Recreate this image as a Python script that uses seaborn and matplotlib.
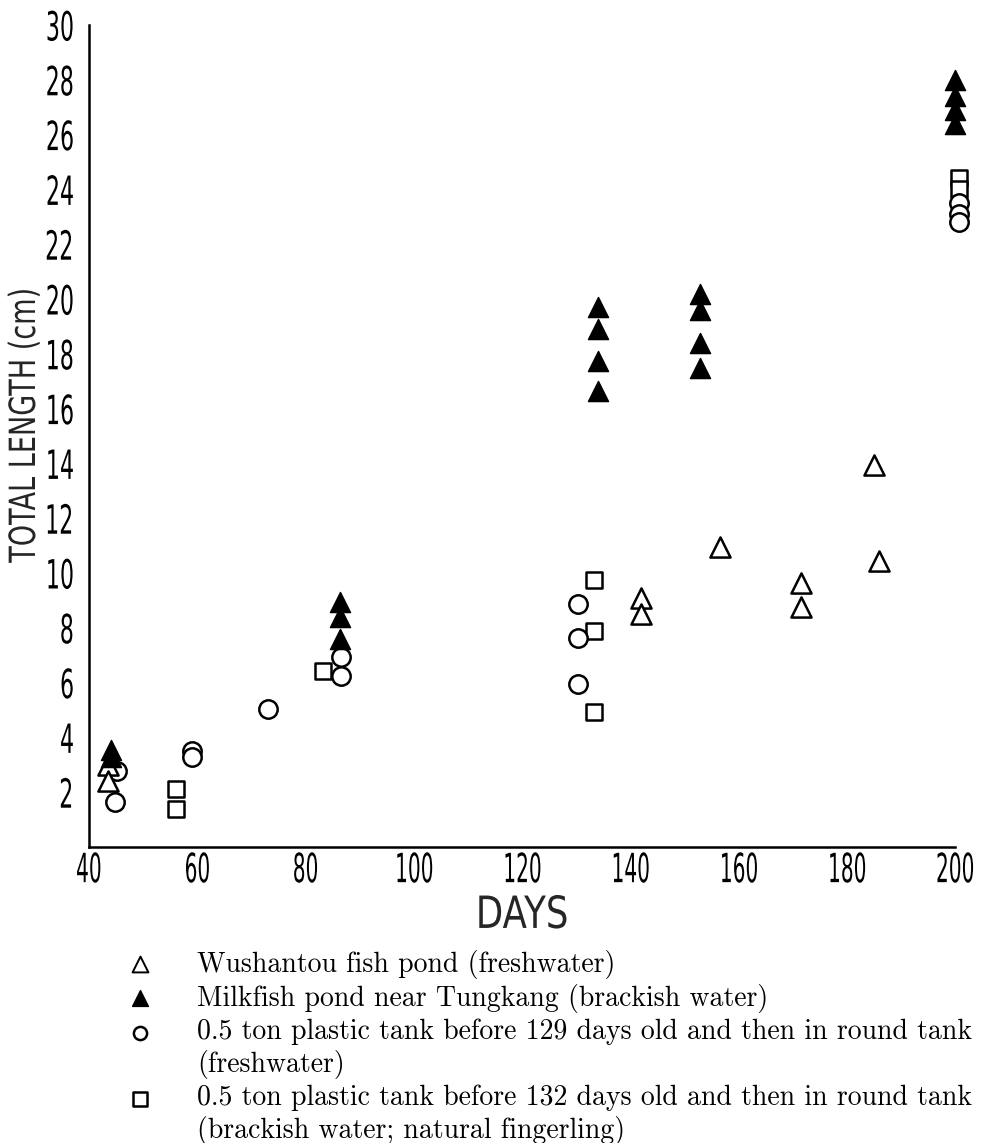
import numpy as np
import pandas as pd
import matplotlib
matplotlib.use("Agg")
import matplotlib.pyplot as plt
import matplotlib.patheffects as pe
from matplotlib.transforms import Affine2D
import seaborn as sns

# ---------------- data ----------------
wush_days = [43.5, 43.5, 142, 142, 156.5, 171.5, 171.5, 185, 186]
wush_len = [3.0, 2.4, 9.1, 8.5, 10.95, 9.65, 8.75, 13.95, 10.45]

tung_days = [44, 44, 86.3, 86.3, 86.3, 134, 134, 134, 134,
             152.8, 152.8, 152.8, 152.8, 200, 200, 200, 200]
tung_len = [3.55, 3.3, 8.95, 8.4, 7.6, 19.7, 18.9, 17.75, 16.65,
            20.2, 19.6, 18.4, 17.5, 28.0, 27.4, 26.9, 26.4]

circ_days = [45.2, 44.8, 59.1, 59.1, 73.1, 86.5, 86.5, 130.4, 130.4, 130.4, 200.8, 200.8, 200.8]
circ_len = [2.77, 1.64, 3.5, 3.3, 5.03, 6.93, 6.23, 8.86, 7.62, 5.94, 23.5, 23.1, 22.8]

sq_days = [56.1, 56.1, 83.3, 133.3, 133.3, 133.3, 200.8, 200.8]
sq_len = [2.1, 1.4, 6.42, 9.73, 7.87, 4.92, 24.4, 24.0]

x_ticks = [40, 60, 80, 100, 120, 140, 160, 180, 200]
y_ticks = [2, 4, 6, 8, 10, 12, 14, 16, 18, 20, 22, 24, 26, 28, 30]

legend_labels = [
    "Wushantou fish pond (freshwater)",
    "Milkfish pond near Tungkang (brackish water)",
    "0.5 ton plastic tank before 129 days old and then in round tank\n(freshwater)",
    "0.5 ton plastic tank before 132 days old and then in round tank\n(brackish water; natural fingerling)",
]


class Squeeze(pe.AbstractPathEffect):
    """Draw text horizontally condensed (along its baseline)."""

    def __init__(self, sx, anchor="center"):
        super().__init__()
        self.sx = sx
        self.anchor = anchor

    def draw_path(self, renderer, gc, tpath, affine, rgbFace=None):
        ext = tpath.get_extents()
        if self.anchor == "center":
            cx = (ext.x0 + ext.x1) / 2
        elif self.anchor == "right":
            cx = ext.x1
        else:
            cx = ext.x0
        t = Affine2D().translate(-cx, 0).scale(self.sx, 1).translate(cx, 0) + affine
        renderer.draw_path(gc, tpath, t, rgbFace)


# ---------------- figure ----------------
sns.set_theme(style="white")
plt.rcParams["font.family"] = ["DejaVu Sans"]

W, H = 991, 1143
fig = plt.figure(figsize=(W / 100, H / 100), dpi=100)
left, right, top, bottom = 89, 955, 25, 847
ax = fig.add_axes([left / W, 1 - bottom / H, (right - left) / W, (bottom - top) / H])

df_w = pd.DataFrame({"day": wush_days, "len": wush_len})
df_t = pd.DataFrame({"day": tung_days, "len": tung_len})
df_c = pd.DataFrame({"day": circ_days, "len": circ_len})
df_s = pd.DataFrame({"day": sq_days, "len": sq_len})

lw = 1.8
sns.scatterplot(data=df_s, x="day", y="len", marker="s", s=120,
                facecolor="white", edgecolor="black", linewidth=lw, ax=ax, zorder=3)
sns.scatterplot(data=df_c, x="day", y="len", marker="o", s=175,
                facecolor="white", edgecolor="black", linewidth=lw, ax=ax, zorder=3)
sns.scatterplot(data=df_w, x="day", y="len", marker="^", s=210,
                facecolor="white", edgecolor="black", linewidth=lw, ax=ax, zorder=4)
sns.scatterplot(data=df_t, x="day", y="len", marker="^", s=210,
                facecolor="black", edgecolor="black", linewidth=1.0, ax=ax, zorder=5)
for coll in ax.collections:
    coll.set_clip_on(False)

ax.set_xlim(40, 200)
ax.set_ylim(0, 30)
ax.set_xticks(x_ticks)
ax.set_yticks(y_ticks)
ax.set_xticklabels([str(v) for v in x_ticks])
ax.set_yticklabels([str(v) for v in y_ticks])

for side in ["top", "right"]:
    ax.spines[side].set_visible(False)
for side in ["left", "bottom"]:
    ax.spines[side].set_linewidth(1.8)
    ax.spines[side].set_color("black")

ax.tick_params(axis="both", direction="in", length=9, width=1.3, colors="black",
               labelsize=29)
ax.tick_params(axis="y", pad=10)
ax.tick_params(axis="x", pad=3)

for lab in ax.get_xticklabels():
    lab.set_path_effects([Squeeze(0.5, "center")])
for lab in ax.get_yticklabels():
    lab.set_path_effects([Squeeze(0.55, "right")])

xl = ax.set_xlabel("DAYS", fontsize=32, labelpad=2)
xl.set_path_effects([Squeeze(0.8, "center")])
yl = ax.set_ylabel("TOTAL LENGTH (cm)", fontsize=26)
yl.set_path_effects([Squeeze(0.75, "center")])
ax.yaxis.set_label_coords((42 - left) / (right - left), (bottom - 425) / (bottom - top))

# ---------------- legend below ----------------
lax = fig.add_axes([0, 0, 1, 1 - 930 / H])
lax.set_xlim(0, W)
lax.set_ylim(H, 930)
lax.axis("off")

key_x = 140
text_x = 197
line_y = [964, 998, 1033, 1099]
key_styles = [
    dict(marker="^", s=130, facecolor="white", edgecolor="black", linewidth=1.4),
    dict(marker="^", s=130, facecolor="black", edgecolor="black", linewidth=1.0),
    dict(marker="o", s=90, facecolor="white", edgecolor="black", linewidth=1.8),
    dict(marker="s", s=95, facecolor="white", edgecolor="black", linewidth=1.8),
]
for yy, lab, st in zip(line_y, legend_labels, key_styles):
    lax.scatter([key_x], [yy], **st)
    lax.text(text_x, yy - 14, lab, fontsize=20, family=["cmr10", "DejaVu Serif"],
             va="top", ha="left", linespacing=1.2, color="black")

fig.savefig("out.png", dpi=100)
